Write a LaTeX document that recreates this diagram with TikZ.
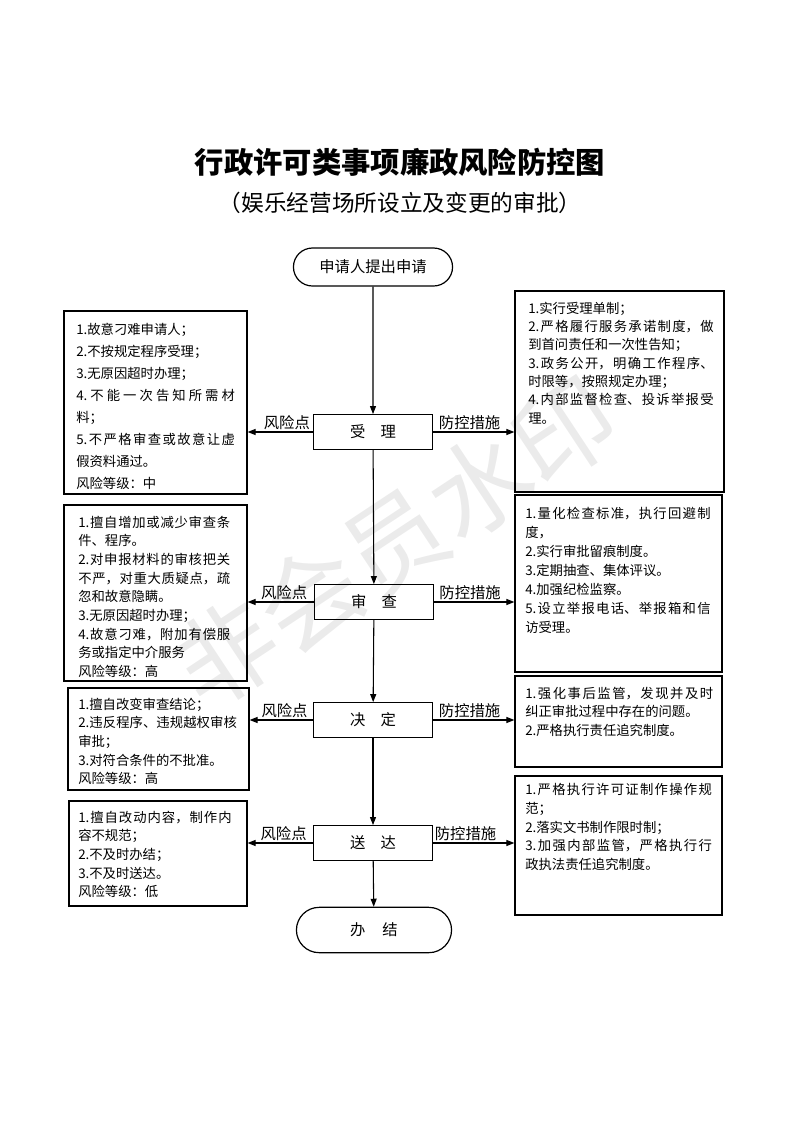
\documentclass[tikz,border=0pt]{standalone}
\usepackage{fontspec}
\setmainfont{Noto Sans CJK SC}
\usetikzlibrary{positioning, arrows.meta, shapes.misc, fit}
\XeTeXlinebreaklocale "zh"
\XeTeXlinebreakskip = 0pt plus 3pt

\begin{document}
\begin{tikzpicture}[
		x=0.75pt, y=-0.75pt,
		frame/.style={draw, line width=0.9pt, inner sep=0pt},
		stepbox/.style={rectangle, draw, line width=0.9pt, minimum width=89pt,
			minimum height=26pt, font=\fontsize{11.5}{13}\selectfont},
		termbox/.style={rounded rectangle, draw, line width=0.9pt, minimum width=126pt,
			minimum height=28.5pt, font=\fontsize{11.5}{13}\selectfont},
		note/.style={anchor=north west, inner sep=0pt, align=justify},
		arrow/.style={-{Triangle[length=6pt, width=4.5pt]}, line width=0.8pt},
		tag/.style={above, inner sep=1.5pt, font=\fontsize{11.5}{13}\selectfont},
		]
		\useasboundingbox (0,0) rectangle (793,1122);
		
		% watermark
		\node[rotate=33.5, text=black!8, font=\fontsize{76}{76}\selectfont] (mark) at (395,542) {非会员水印};
		
		% title
		\node[font=\fontsize{22}{26}\selectfont\bfseries] (title) at (400,162) {行政许可类事项廉政风险防控图};
		\node[font=\fontsize{17}{20}\selectfont] (subtitle) at (400,203) {（娱乐经营场所设立及变更的审批）};
		
		% main flow
		\node[termbox] (apply) at (373,267) {申请人提出申请};
		\node[stepbox] (accept) at (373,432) {受\hspace{1em}理};
		\node[stepbox] (review) at (374,602) {审\hspace{1em}查};
		\node[stepbox] (decide) at (373,720) {决\hspace{1em}定};
		\node[stepbox] (deliver) at (373,843) {送\hspace{1em}达};
		\node[termbox, minimum width=123pt, minimum height=34pt] (finish) at (374,930) {办\hspace{1.1em}结};
		
		\draw[arrow] (apply) -- (accept);
		\draw[arrow] (accept) -- (review);
		\draw[arrow] (review) -- (decide);
		\draw[arrow] (decide) -- (deliver);
		\draw[arrow] (deliver) -- (finish);
		
		% risk points (left)
		\node[frame, fit={(64,311) (247,494)}] (risk1) {};
		\node[note, font=\fontsize{10}{16.5}\selectfont, text width=119pt] (risk1txt) at (76,322.5)
		{1.故意刁难申请人；\\
			2.不按规定程序受理；\\
			3.无原因超时办理；\\
			4.不能一次告知所需材\linebreak
			料；\\
			5.不严格审查或故意让虚\linebreak
			假资料通过。\\
			风险等级：中};
		
		\node[frame, fit={(64,505) (247,681)}] (risk2) {};
		\node[note, font=\fontsize{10}{14}\selectfont, text width=114pt] (risk2txt) at (78,515.5)
		{1.擅自增加或减少审查条\linebreak
			件、程序。\\
			2.对申报材料的审核把关\linebreak
			不严，对重大质疑点，疏\linebreak
			忽和故意隐瞒。\\
			3.无原因超时办理；\\
			4.故意刁难，附加有偿服\linebreak
			务或指定中介服务\\
			风险等级：高};
		
		\node[frame, fit={(68,688) (249,790)}] (risk3) {};
		\node[note, font=\fontsize{10}{14}\selectfont, text width=119pt] (risk3txt) at (78,697.5)
		{1.擅自改变审查结论；\\
			2.违反程序、违规越权审核\linebreak
			审批；\\
			3.对符合条件的不批准。\\
			风险等级：高};
		
		\node[frame, fit={(69,801) (247,906)}] (risk4) {};
		\node[note, font=\fontsize{10}{14}\selectfont, text width=115pt] (risk4txt) at (78,810.5)
		{1.擅自改动内容，制作内\linebreak
			容不规范；\\
			2.不及时办结；\\
			3.不及时送达。\\
			风险等级：低};
		
		% control measures (right)
		\node[frame, fit={(515,291) (724,492)}] (ctrl1) {};
		\node[note, font=\fontsize{10}{13.75}\selectfont, text width=139pt] (ctrl1txt) at (528,301.5)
		{1.实行受理单制；\\
			2.严格履行服务承诺制度，做\linebreak
			到首问责任和一次性告知；\\
			3.政务公开，明确工作程序、\linebreak
			时限等，按照规定办理；\\
			4.内部监督检查、投诉举报受\linebreak
			理。};
		
		\node[frame, fit={(515,495) (722,672)}] (ctrl2) {};
		\node[note, font=\fontsize{10}{14.3}\selectfont, text width=139pt] (ctrl2txt) at (525,506.5)
		{1.量化检查标准，执行回避制\linebreak
			度，\\
			2.实行审批留痕制度。\\
			3.定期抽查、集体评议。\\
			4.加强纪检监察。\\
			5.设立举报电话、举报箱和信\linebreak
			访受理。};
		
		\node[frame, fit={(515,676) (722,767)}] (ctrl3) {};
		\node[note, font=\fontsize{10}{13.9}\selectfont, text width=141pt] (ctrl3txt) at (525,686.5)
		{1.强化事后监管，发现并及时\linebreak
			纠正审批过程中存在的问题。\\
			2.严格执行责任追究制度。};
		
		\node[frame, fit={(515,776) (722,915)}] (ctrl4) {};
		\node[note, font=\fontsize{10}{14}\selectfont, text width=140pt] (ctrl4txt) at (525,783.5)
		{1.严格执行许可证制作操作规\linebreak
			范；\\
			2.落实文书制作限时制；\\
			3.加强内部监管，严格执行行\linebreak
			政执法责任追究制度。};
		
		% side arrows
		\draw[arrow] (accept.west) -- node[tag, pos=0.4] {风险点} (accept.west -| risk1.east);
		\draw[arrow] (accept.east) -- node[tag, pos=0.45] {防控措施} (accept.east -| ctrl1.west);
		\draw[arrow] (review.west) -- node[tag, pos=0.45] {风险点} (review.west -| risk2.east);
		\draw[arrow] (review.east) -- node[tag, pos=0.45] {防控措施} (review.east -| ctrl2.west);
		\draw[arrow] (decide.west) -- node[tag, pos=0.45] {风险点} (decide.west -| risk3.east);
		\draw[arrow] (decide.east) -- node[tag, pos=0.45] {防控措施} (decide.east -| ctrl3.west);
		\draw[arrow] (deliver.west) -- node[tag, pos=0.45] {风险点} (deliver.west -| risk4.east);
		\draw[arrow] (deliver.east) -- node[tag, pos=0.4] {防控措施} (deliver.east -| ctrl4.west);
	\end{tikzpicture}
\end{document}
